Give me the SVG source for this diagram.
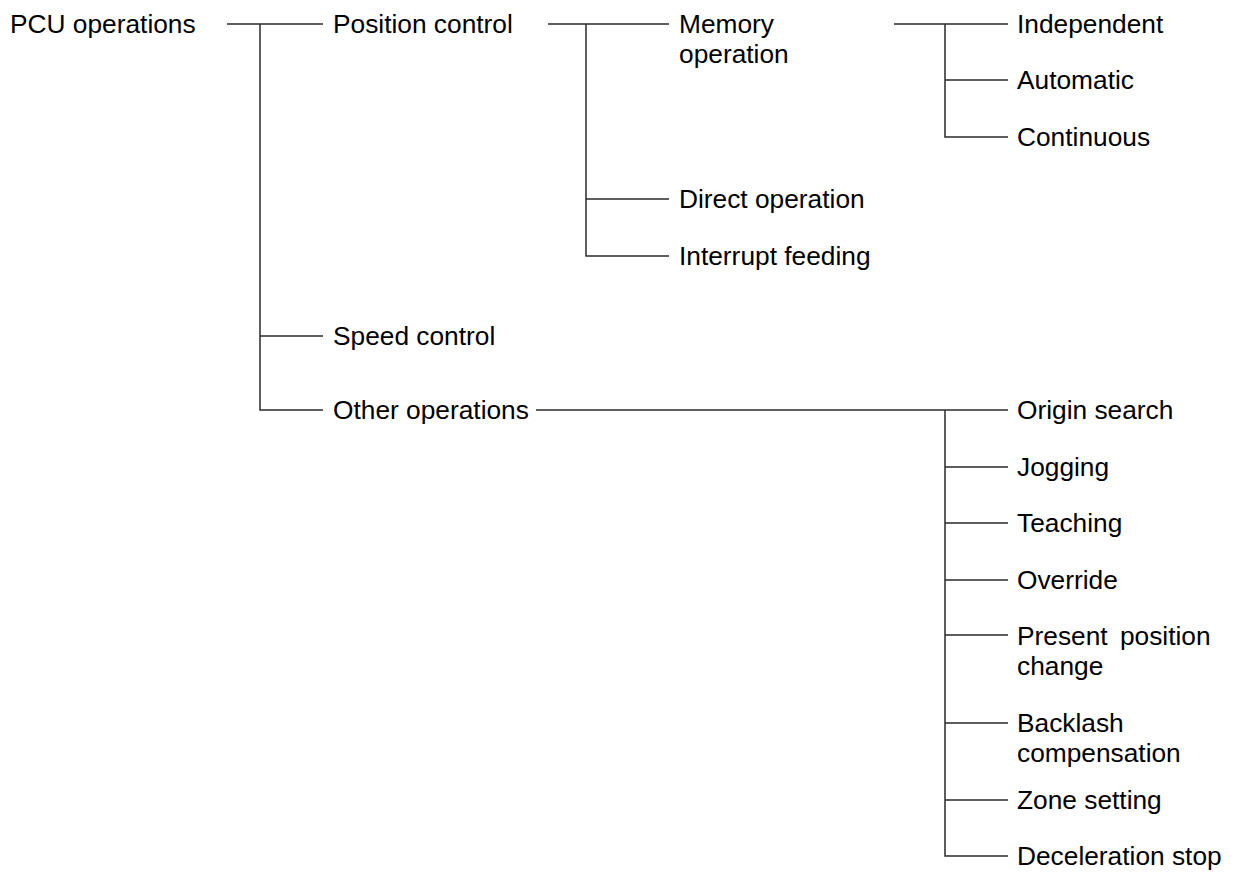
<svg xmlns="http://www.w3.org/2000/svg" width="1236" height="873" viewBox="0 0 1236 873">
<style>
text{font-family:"Liberation Sans",Arial,Helvetica,sans-serif;font-size:26.3px;fill:#000}
.c line,.c path{stroke:#2a2a2a;stroke-width:1.5;fill:none}
</style>
<rect width="1236" height="873" fill="#fff"/>
<g class="c" id="connectors">
<line x1="227" y1="24" x2="323" y2="24"/>
<path d="M260 24V410H323M260 336H323"/>
<line x1="548" y1="24" x2="669" y2="24"/>
<path d="M586 24V256H669M586 199H669"/>
<line x1="894" y1="24" x2="1008" y2="24"/>
<path d="M945 24V137H1008M945 80H1008"/>
<line x1="536" y1="410" x2="1008" y2="410"/>
<path d="M945 410V856H1008M945 467H1008M945 523H1008M945 580H1008M945 635H1008M945 723H1008M945 800H1008"/>
</g>
<g id="n-pcu"><text x="10" y="33">PCU operations</text></g>
<g id="n-position"><text x="333" y="33">Position control</text></g>
<g id="n-memory"><text x="679" y="33">Memory</text><text x="679" y="63">operation</text></g>
<g id="n-independent"><text x="1017" y="33">Independent</text></g>
<g id="n-automatic"><text x="1017" y="89">Automatic</text></g>
<g id="n-continuous"><text x="1017" y="146">Continuous</text></g>
<g id="n-direct"><text x="679" y="208">Direct operation</text></g>
<g id="n-interrupt"><text x="679" y="265">Interrupt feeding</text></g>
<g id="n-speed"><text x="333" y="345">Speed control</text></g>
<g id="n-other"><text x="333" y="419">Other operations</text></g>
<g id="n-origin"><text x="1017" y="419">Origin search</text></g>
<g id="n-jogging"><text x="1017" y="476">Jogging</text></g>
<g id="n-teaching"><text x="1017" y="532">Teaching</text></g>
<g id="n-override"><text x="1017" y="589">Override</text></g>
<g id="n-present"><text x="1017" y="645" word-spacing="5">Present position</text><text x="1017" y="675">change</text></g>
<g id="n-backlash"><text x="1017" y="732">Backlash</text><text x="1017" y="762">compensation</text></g>
<g id="n-zone"><text x="1017" y="809">Zone setting</text></g>
<g id="n-decel"><text x="1017" y="865">Deceleration stop</text></g>
</svg>
